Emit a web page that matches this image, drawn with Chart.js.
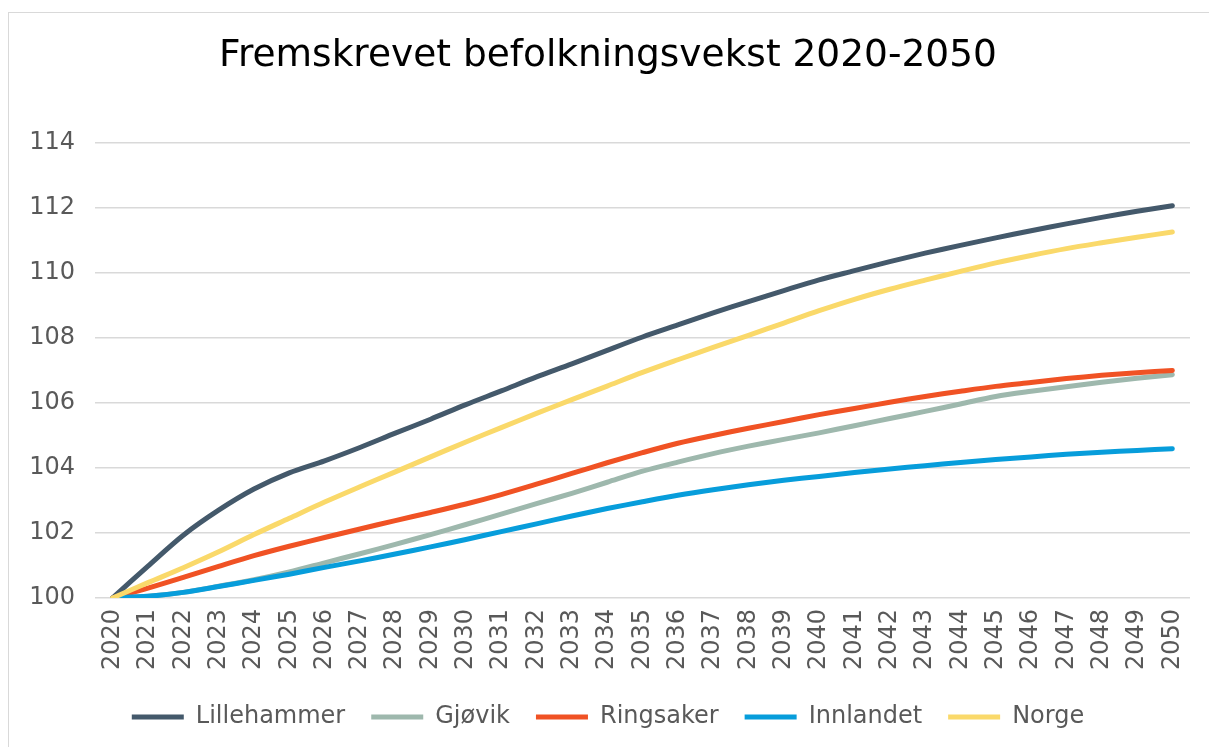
<!DOCTYPE html>
<html>
<head>
<meta charset="utf-8">
<script src="https://cdn.jsdelivr.net/npm/chart.js@4/dist/chart.umd.min.js"></script>
<style>
  html, body { margin: 0; padding: 0; background: #fff; overflow: hidden; }
  #frame { position: absolute; left: 8px; top: 12px; width: 1300px; height: 800px; border: 1px solid #d9d9d9; }
  #wrap { position: absolute; left: 0; top: 0; width: 1209px; height: 747px; }
</style>
</head>
<body>
<div id="frame"></div>
<div id="wrap"><canvas id="chart"></canvas></div>
<script>
const years = ['2020','2021','2022','2023','2024','2025','2026','2027','2028','2029','2030',
  '2031','2032','2033','2034','2035','2036','2037','2038','2039','2040',
  '2041','2042','2043','2044','2045','2046','2047','2048','2049','2050'];

const lillehammer = [100, 100.98, 101.93, 102.7, 103.35, 103.85, 104.22, 104.63, 105.07, 105.5, 105.95,
  106.37, 106.8, 107.2, 107.62, 108.03, 108.4, 108.77, 109.12, 109.46, 109.79,
  110.07, 110.35, 110.61, 110.85, 111.08, 111.3, 111.51, 111.71, 111.9, 112.07];
const gjovik = [100, 100.05, 100.17, 100.36, 100.56, 100.8, 101.08, 101.36, 101.65, 101.95, 102.26,
  102.58, 102.9, 103.22, 103.56, 103.9, 104.18, 104.44, 104.67, 104.88, 105.08,
  105.3, 105.52, 105.74, 105.97, 106.2, 106.36, 106.5, 106.64, 106.76, 106.87];
const ringsaker = [100, 100.3, 100.63, 100.97, 101.3, 101.59, 101.86, 102.12, 102.38, 102.63, 102.89,
  103.18, 103.5, 103.83, 104.16, 104.47, 104.76, 105.0, 105.22, 105.43, 105.64,
  105.83, 106.02, 106.2, 106.36, 106.51, 106.63, 106.75, 106.85, 106.93, 107.0];
const innlandet = [100, 100.05, 100.17, 100.35, 100.54, 100.73, 100.94, 101.14, 101.35, 101.57, 101.8,
  102.04, 102.28, 102.52, 102.75, 102.96, 103.16, 103.33, 103.48, 103.62, 103.74,
  103.86, 103.97, 104.07, 104.17, 104.26, 104.34, 104.42, 104.48, 104.54, 104.59];
const norge = [100, 100.47, 100.93, 101.42, 101.95, 102.45, 102.95, 103.42, 103.88, 104.34, 104.8,
  105.24, 105.68, 106.1, 106.52, 106.94, 107.33, 107.71, 108.08, 108.46, 108.84,
  109.19, 109.5, 109.78, 110.05, 110.31, 110.54, 110.75, 110.93, 111.1, 111.26];

const FONT = 'DejaVu Sans, Verdana, sans-serif';
const GREY = '#595959';

function line(label, data, color, order) {
  return {
    label, data, order,
    borderColor: color, backgroundColor: color,
    borderWidth: 5, pointRadius: 0, pointHoverRadius: 0,
    tension: 0.3,
    borderCapStyle: 'round', borderJoinStyle: 'round'
  };
}

new Chart(document.getElementById('chart'), {
  type: 'line',
  data: {
    labels: years,
    datasets: [
      line('Lillehammer', lillehammer, '#44596b', 4),
      line('Gjøvik', gjovik, '#9eb8ad', 3),
      line('Ringsaker', ringsaker, '#f05224', 2),
      line('Innlandet', innlandet, '#079ddb', 1),
      line('Norge', norge, '#fad96a', 0)
    ]
  },
  options: {
    responsive: true,
    maintainAspectRatio: false,
    animation: false,
    layout: { padding: { left: 26, right: 19, top: 0, bottom: 8 } },
    scales: {
      x: {
        offset: true,
        grid: { display: false, drawTicks: false },
        border: { display: false },
        ticks: {
          color: GREY, font: { family: FONT, size: 24 },
          maxRotation: 90, minRotation: 90, autoSkip: false, padding: 11
        },
        afterFit: s => { s.height -= 2; s.paddingLeft = 0; s.paddingRight = 0; }
      },
      y: {
        min: 100, max: 114,
        grid: { color: '#d9d9d9', lineWidth: 1.5, drawTicks: false },
        border: { display: false },
        ticks: { stepSize: 2, color: GREY, font: { family: FONT, size: 24 }, padding: 20 },
        afterFit: s => { s.width = 69; }
      }
    },
    plugins: {
      title: {
        display: true,
        text: 'Fremskrevet befolkningsvekst 2020-2050',
        color: '#000',
        font: { family: FONT, size: 37.5, weight: 'normal' },
        padding: { top: 34, bottom: 64 }
      },
      legend: {
        position: 'bottom',
        labels: {
          color: GREY, font: { family: FONT, size: 24 },
          usePointStyle: true, pointStyle: 'line', pointStyleWidth: 52,
          boxHeight: 24, padding: 26,
          sort: (a, b) => a.datasetIndex - b.datasetIndex
        }
      },
      tooltip: { enabled: false }
    }
  }
});
</script>
</body>
</html>
